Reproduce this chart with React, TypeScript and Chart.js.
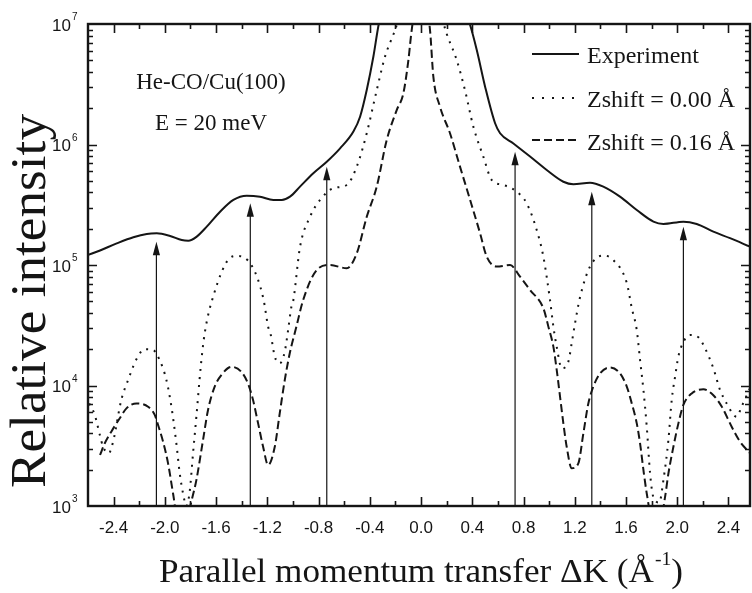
import { useEffect, useRef } from 'react';
import { Chart, registerables } from 'chart.js';

Chart.register(...registerables);

// ---------- data ----------
const xMin = -2.6;
const xMax = 2.568;
const yMin = 1e3;
const yMax = 1e7;

const xTickValues = [-2.4, -2.0, -1.6, -1.2, -0.8, -0.4, 0.0, 0.4, 0.8, 1.2, 1.6, 2.0, 2.4];
const xTickLabels = ['-2.4', '-2.0', '-1.6', '-1.2', '-0.8', '-0.4', '0.0', '0.4', '0.8', '1.2', '1.6', '2.0', '2.4'];
const yTickExponents = [3, 4, 5, 6, 7];

const seriesLabels = ['Experiment', 'Zshift = 0.00 Å', 'Zshift = 0.16 Å'];

const expX = [-2.6, -2.506, -2.376, -2.246, -2.141, -2.063, -1.959, -1.868, -1.817, -1.751, -1.673, -1.569, -1.465, -1.361, -1.257, -1.153, -1.087, -1.023, -0.945, -0.841, -0.736, -0.632, -0.528, -0.476, -0.424, -0.372, -0.33, -0.2, 0.0, 0.2, 0.383, 0.435, 0.5, 0.578, 0.617, 0.721, 0.851, 0.981, 1.111, 1.189, 1.319, 1.423, 1.553, 1.684, 1.814, 1.892, 2.048, 2.152, 2.282, 2.412, 2.568];
const expY = [1.21e5, 1.32e5, 1.51e5, 1.70e5, 1.81e5, 1.83e5, 1.74e5, 1.61e5, 1.59e5, 1.72e5, 2.08e5, 2.77e5, 3.47e5, 3.76e5, 3.69e5, 3.47e5, 3.47e5, 3.69e5, 4.47e5, 5.77e5, 7.19e5, 9.29e5, 1.28e6, 1.70e6, 2.83e6, 5.37e6, 1.0e7, 3.2e7, 6.3e7, 3.2e7, 9.8e6, 6.08e6, 3.02e6, 1.50e6, 1.24e6, 1.02e6, 7.94e5, 6.14e5, 4.91e5, 4.68e5, 4.82e5, 4.47e5, 3.69e5, 2.86e5, 2.29e5, 2.19e5, 2.29e5, 2.19e5, 1.89e5, 1.67e5, 1.42e5];

const z000X = [-2.59, -2.547, -2.508, -2.482, -2.438, -2.404, -2.34, -2.287, -2.222, -2.157, -2.092, -2.04, -1.988, -1.949, -1.91, -1.884, -1.858, -1.832, -1.806, -1.78, -1.754, -1.72, -1.689, -1.62, -1.49, -1.44, -1.32, -1.23, -1.194, -1.173, -1.142, -1.103, -1.064, -1.038, -1.012, -0.997, -0.945, -0.867, -0.788, -0.685, -0.58, -0.502, -0.424, -0.346, -0.281, -0.203, 0.0, 0.2, 0.279, 0.343, 0.408, 0.486, 0.552, 0.643, 0.747, 0.825, 0.903, 0.955, 1.007, 1.033, 1.059, 1.098, 1.15, 1.176, 1.202, 1.241, 1.319, 1.423, 1.501, 1.606, 1.645, 1.684, 1.71, 1.736, 1.762, 1.788, 1.813, 1.86, 1.892, 1.931, 1.957, 1.983, 2.009, 2.043, 2.1, 2.165, 2.217, 2.282, 2.334, 2.386, 2.464, 2.503, 2.543, 2.568];
const z000Y = [7.1e3, 5.7e3, 3.9e3, 3.1e3, 2.74e3, 3.42e3, 7.6e3, 1.11e4, 1.65e4, 2.0e4, 1.97e4, 1.62e4, 1.11e4, 6.7e3, 3.3e3, 1.87e3, 1.27e3, 1.0e3, 1.32e3, 2.74e3, 5.5e3, 1.43e4, 2.71e4, 5.6e4, 1.15e5, 1.19e5, 9.8e4, 5.2e4, 3.08e4, 2.62e4, 1.74e4, 1.53e4, 1.91e4, 2.88e4, 4.5e4, 5.1e4, 1.41e5, 2.51e5, 3.47e5, 4.34e5, 4.61e5, 6.55e5, 1.24e6, 2.82e6, 5.37e6, 8.9e6, 4.0e7, 8.3e6, 5.0e6, 2.82e6, 1.41e6, 7.94e5, 5.07e5, 4.61e5, 4.06e5, 3.25e5, 1.95e5, 1.17e5, 5.1e4, 3.08e4, 2.10e4, 1.39e4, 1.58e4, 2.24e4, 3.28e4, 5.4e4, 9.7e4, 1.2e5, 1.1e5, 7.1e4, 4.4e4, 2.88e4, 1.62e4, 9.2e3, 4.55e3, 1.86e3, 1.19e3, 1.07e3, 1.64e3, 3.53e3, 7.6e3, 1.18e4, 1.74e4, 2.24e4, 2.63e4, 2.51e4, 2.04e4, 1.39e4, 9.2e3, 7.1e3, 5.5e3, 6.7e3, 8.3e3, 9.5e3];

const z016X = [-2.506, -2.47, -2.418, -2.352, -2.3, -2.222, -2.131, -2.079, -2.053, -2.014, -1.975, -1.936, -1.87, -1.793, -1.754, -1.702, -1.663, -1.611, -1.559, -1.481, -1.403, -1.351, -1.312, -1.272, -1.233, -1.194, -1.142, -1.103, -1.064, -1.025, -0.973, -0.921, -0.814, -0.71, -0.58, -0.502, -0.424, -0.346, -0.268, -0.19, -0.138, -0.099, -0.073, 0.0, 0.07, 0.096, 0.148, 0.226, 0.304, 0.383, 0.461, 0.513, 0.591, 0.695, 0.773, 0.851, 0.955, 0.994, 1.033, 1.059, 1.085, 1.111, 1.137, 1.176, 1.228, 1.267, 1.306, 1.345, 1.397, 1.475, 1.553, 1.606, 1.645, 1.684, 1.71, 1.736, 1.762, 1.84, 1.905, 1.931, 1.97, 2.009, 2.048, 2.113, 2.204, 2.282, 2.347, 2.425, 2.49, 2.568];
const z016Y = [2.65e3, 3.3e3, 4.14e3, 5.35e3, 6.46e3, 7.1e3, 6.67e3, 5.7e3, 4.7e3, 3.42e3, 2.26e3, 1.27e3, 5e2, 1.09e3, 1.64e3, 3.53e3, 6.27e3, 9.8e3, 1.22e4, 1.43e4, 1.30e4, 1.04e4, 7.6e3, 4.85e3, 3.1e3, 2.19e3, 3.1e3, 5.9e3, 1.11e4, 1.85e4, 3.08e4, 5.1e4, 9.1e4, 1.0e5, 9.4e4, 1.25e5, 2.51e5, 4.47e5, 1.09e6, 1.93e6, 2.66e6, 5.0e6, 8.9e6, 2.5e7, 8.9e6, 3.66e6, 2.06e6, 1.24e6, 6.55e5, 3.47e5, 1.83e5, 1.17e5, 9.7e4, 1.0e5, 8.0e4, 6.2e4, 4.37e4, 3.08e4, 2.10e4, 1.35e4, 8.1e3, 4.85e3, 3.1e3, 2.06e3, 2.26e3, 4.0e3, 7.1e3, 9.8e3, 1.26e4, 1.41e4, 1.26e4, 9.8e3, 7.1e3, 4.85e3, 3.3e3, 1.99e3, 1.27e3, 5e2, 1.19e3, 1.86e3, 3.1e3, 4.85e3, 6.9e3, 8.6e3, 9.3e3, 8.3e3, 6.7e3, 4.55e3, 3.42e3, 2.74e3];

const arrowX = [-2.066, -1.333, -0.736, 0.734, 1.333, 2.048];
const arrowTip = [1.56e5, 3.25e5, 6.55e5, 8.7e5, 4.06e5, 2.08e5];

const annotationLines = ['He-CO/Cu(100)', 'E = 20 meV'];
const yTitle = 'Relative intensity';
const xTitleMain = 'Parallel momentum transfer ΔK (Å';
const xTitleSup = '-1';
const xTitleEnd = ')';

// ---------- styles ----------
const INK = '#151515';
const SERIF = '"Liberation Serif", "Times New Roman", serif';
const SANS = '"Liberation Sans", Arial, sans-serif';
const DOT = [2, 6];
const DASH = [8, 4];

const toPts = (xs: number[], ys: number[]) => xs.map((v, i) => ({ x: v, y: ys[i] }));

const decor = {
  id: 'decor',
  afterDatasetsDraw(chart: any) {
    const { ctx, chartArea: a, scales } = chart;
    const xs = scales.x;
    const ys = scales.y;
    ctx.save();
    ctx.strokeStyle = INK;
    ctx.fillStyle = INK;
    ctx.setLineDash([]);

    // arrows
    ctx.lineWidth = 1.2;
    arrowX.forEach((v, i) => {
      const px = xs.getPixelForValue(v);
      const top = ys.getPixelForValue(arrowTip[i]);
      ctx.beginPath();
      ctx.moveTo(px, a.bottom);
      ctx.lineTo(px, top + 10);
      ctx.stroke();
      ctx.beginPath();
      ctx.moveTo(px, top);
      ctx.lineTo(px - 3.6, top + 13.5);
      ctx.lineTo(px + 3.6, top + 13.5);
      ctx.closePath();
      ctx.fill();
    });

    // frame
    ctx.lineWidth = 2.4;
    ctx.strokeRect(a.left, a.top, a.right - a.left, a.bottom - a.top);

    // x ticks (inward, top and bottom)
    ctx.lineWidth = 1.6;
    for (let k = -14; k <= 14; k++) {
      const v = k * 0.2;
      if (v <= xMin + 1e-6 || v >= xMax - 1e-6) continue;
      const px = Math.round(xs.getPixelForValue(v)) + 0.5;
      const len = k % 2 === 0 ? 9 : 5;
      ctx.beginPath();
      ctx.moveTo(px, a.bottom);
      ctx.lineTo(px, a.bottom - len);
      ctx.moveTo(px, a.top);
      ctx.lineTo(px, a.top + len);
      ctx.stroke();
    }
    // y ticks (inward, left and right)
    for (let d = 3; d < 7; d++) {
      for (let m = 1; m <= 9; m++) {
        const val = m * Math.pow(10, d);
        if (val <= yMin) continue;
        const py = Math.round(ys.getPixelForValue(val)) + 0.5;
        const len = m === 1 ? 9 : 5;
        ctx.beginPath();
        ctx.moveTo(a.left, py);
        ctx.lineTo(a.left + len, py);
        ctx.moveTo(a.right, py);
        ctx.lineTo(a.right - len, py);
        ctx.stroke();
      }
    }

    // x tick labels
    ctx.font = `17px ${SANS}`;
    ctx.textAlign = 'center';
    ctx.textBaseline = 'alphabetic';
    xTickValues.forEach((v, i) => {
      ctx.fillText(xTickLabels[i], xs.getPixelForValue(v), a.bottom + 27);
    });

    // y tick labels with superscript
    yTickExponents.forEach((e) => {
      const py = ys.getPixelForValue(Math.pow(10, e));
      ctx.font = `17px ${SANS}`;
      ctx.textAlign = 'right';
      ctx.fillText('10', a.left - 17, py + 6.5);
      ctx.font = `10px ${SANS}`;
      ctx.textAlign = 'left';
      ctx.fillText(String(e), a.left - 16, py - 4);
    });

    // y title
    ctx.save();
    ctx.font = `50px ${SERIF}`;
    ctx.textAlign = 'center';
    ctx.translate(45, 301);
    ctx.rotate(-Math.PI / 2);
    const wy = ctx.measureText(yTitle).width;
    ctx.scale(374 / wy, 1);
    ctx.fillText(yTitle, 0, 0);
    ctx.restore();

    // x title
    ctx.save();
    ctx.textAlign = 'left';
    ctx.font = `34px ${SERIF}`;
    const w1 = ctx.measureText(xTitleMain).width;
    const w3 = ctx.measureText(xTitleEnd).width;
    ctx.font = `19px ${SERIF}`;
    const w2 = ctx.measureText(xTitleSup).width + 1;
    const total = w1 + w2 + w3;
    const target = 524;
    const sx = target / total;
    ctx.translate(421 - target / 2, 582);
    ctx.scale(sx, 1);
    ctx.font = `34px ${SERIF}`;
    ctx.fillText(xTitleMain, 0, 0);
    ctx.font = `19px ${SERIF}`;
    ctx.fillText(xTitleSup, w1 + 1, -17);
    ctx.font = `34px ${SERIF}`;
    ctx.fillText(xTitleEnd, w1 + w2, 0);
    ctx.restore();

    // annotation
    ctx.font = `23px ${SERIF}`;
    ctx.textAlign = 'center';
    ctx.fillText(annotationLines[0], 211, 89);
    ctx.fillText(annotationLines[1], 211, 130);

    // legend
    const rowLine = [54, 98, 140];
    const rowText = [63, 107, 150];
    const dashes = [[], [2, 8], [8, 4]];
    ctx.lineWidth = 2;
    seriesLabels.forEach((lab, i) => {
      ctx.setLineDash(dashes[i]);
      ctx.beginPath();
      ctx.moveTo(532, rowLine[i]);
      ctx.lineTo(579, rowLine[i]);
      ctx.stroke();
      ctx.setLineDash([]);
      ctx.font = `24px ${SERIF}`;
      ctx.textAlign = 'left';
      ctx.fillText(lab, 587, rowText[i]);
    });

    ctx.restore();
  },
};

export default function App() {
  const ref = useRef<HTMLCanvasElement | null>(null);
  useEffect(() => {
    if (!ref.current) return;
    const chart = new Chart(ref.current, {
      type: 'line',
      data: {
        datasets: [
          {
            label: seriesLabels[0],
            data: toPts(expX, expY),
            borderColor: INK,
            borderWidth: 2,
            pointRadius: 0,
            cubicInterpolationMode: 'monotone',
            clip: 0,
          },
          {
            label: seriesLabels[1],
            data: toPts(z000X, z000Y),
            borderColor: INK,
            borderWidth: 2,
            borderDash: DOT,
            pointRadius: 0,
            cubicInterpolationMode: 'monotone',
            clip: 0,
          },
          {
            label: seriesLabels[2],
            data: toPts(z016X, z016Y),
            borderColor: INK,
            borderWidth: 2,
            borderDash: DASH,
            pointRadius: 0,
            cubicInterpolationMode: 'monotone',
            clip: 0,
          },
        ],
      },
      options: {
        responsive: false,
        animation: false,
        devicePixelRatio: 1,
        layout: { padding: { left: 0, right: 2, top: 24, bottom: 0 } },
        plugins: { legend: { display: false }, tooltip: { enabled: false } },
        scales: {
          x: {
            type: 'linear',
            min: xMin,
            max: xMax,
            ticks: { display: false },
            grid: { display: false },
            border: { display: false },
            afterFit: (s: any) => {
              s.height = 87;
            },
          },
          y: {
            type: 'logarithmic',
            min: yMin,
            max: yMax,
            ticks: { display: false },
            grid: { display: false },
            border: { display: false },
            afterFit: (s: any) => {
              s.width = 88;
            },
          },
        },
      } as any,
      plugins: [decor],
    });
    return () => chart.destroy();
  }, []);

  return (
    <div style={{ position: 'fixed', left: 0, top: 0, width: 752, height: 593, background: '#fff' }}>
      <canvas ref={ref} width={752} height={593} style={{ display: 'block', width: 752, height: 593 }} />
    </div>
  );
}
